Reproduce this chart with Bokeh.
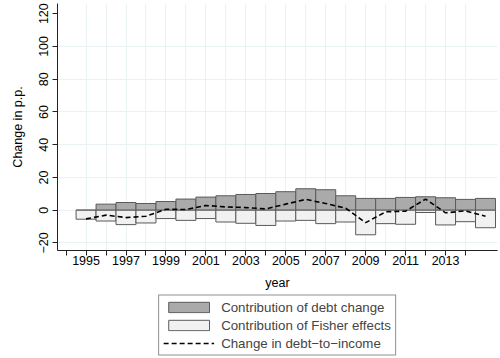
from bokeh.plotting import figure
from bokeh.layouts import column
from bokeh.models import Range1d, FixedTicker, Legend, LegendItem
from bokeh.embed import file_html
from bokeh.resources import INLINE

# Decomposition of the annual change in debt-to-income (percentage points)
years = list(range(1995, 2016))
debt_change = [0.0, 3.7, 4.7, 4.1, 5.3, 6.8, 8.0, 8.8, 9.6, 10.2, 11.3,
               13.1, 12.5, 8.8, 7.2, 7.2, 7.8, 8.2, 7.6, 6.6, 7.2]
fisher_effects = [-5.5, -6.6, -8.8, -7.8, -5.1, -6.2, -5.1, -7.2, -8.0, -9.3, -6.6,
                  -6.2, -8.2, -7.2, -15.0, -8.2, -8.6, -1.4, -9.0, -7.0, -10.7]
dti_change = [-5.3, -3.0, -4.5, -3.7, 0.6, 0.4, 2.9, 2.0, 1.6, 0.8, 3.7,
              6.6, 4.1, 1.2, -7.6, -1.0, -0.6, 6.8, -1.6, -0.4, -3.7]

y_ticks = [-20, 0, 20, 40, 60, 80, 100, 120]
x_ticks = list(range(1994, 2015))
x_labels = {t: (str(t) if t % 2 == 1 else "") for t in x_ticks}
series_labels = ["Contribution of debt change",
                 "Contribution of Fisher effects",
                 "Change in debt\u2212to\u2212income"]

FONT = "Liberation Sans"
GRID = "#eaf2f3"
AXIS = "#222222"
DEBT_STYLE = dict(fill_color="#aaaaaa", line_color="#5a5a5a", line_width=1)
FISHER_STYLE = dict(fill_color="#f1f1f1", line_color="#5a5a5a", line_width=1)
LINE_STYLE = dict(line_color="black", line_width=1.6, line_dash="5 3")

p = figure(width=500, height=292, output_backend="svg", toolbar_location=None,
           x_range=Range1d(1993.57, 2015.6), y_range=Range1d(-24.6, 126.2),
           min_border_left=57, min_border_right=3, min_border_top=3,
           min_border_bottom=0, outline_line_color=None,
           background_fill_color="white", border_fill_color="white")

# bars: debt change stacked upward, Fisher effects downward
p.vbar(x=years, top=debt_change, bottom=0, width=1.0, **DEBT_STYLE)
p.vbar(x=years, top=0, bottom=fisher_effects, width=1.0, **FISHER_STYLE)
p.line(x=years, y=dti_change, **LINE_STYLE)

# axes
p.xaxis.ticker = FixedTicker(ticks=x_ticks)
p.xaxis.major_label_overrides = x_labels
p.yaxis.ticker = FixedTicker(ticks=y_ticks)
p.yaxis.major_label_overrides = {t: str(t).replace("-", "\u2212") for t in y_ticks}
p.yaxis.major_label_orientation = "vertical"
p.xaxis.axis_label = "year"
p.yaxis.axis_label = "Change in p.p."

for ax in (p.xaxis, p.yaxis):
    ax.axis_line_color = AXIS
    ax.major_tick_line_color = AXIS
    ax.major_tick_out = 5
    ax.major_tick_in = 0
    ax.minor_tick_out = 0
    ax.minor_tick_in = 0
    ax.major_label_text_font = FONT
    ax.major_label_text_font_size = "12.5px"
    ax.major_label_text_color = "black"
    ax.axis_label_text_font = FONT
    ax.axis_label_text_font_size = "12.5px"
    ax.axis_label_text_font_style = "normal"
    ax.axis_label_text_color = "black"
p.xaxis.major_label_standoff = 0
p.xaxis.axis_label_standoff = 8
p.yaxis.major_label_standoff = 4
p.yaxis.axis_label_standoff = 12

# grid
p.xgrid.ticker = FixedTicker(ticks=list(range(1995, 2015)))
p.ygrid.ticker = FixedTicker(ticks=[-20, 0, 20, 40, 60, 80, 100])
p.xgrid.grid_line_color = GRID
p.ygrid.grid_line_color = GRID
p.xgrid.grid_line_width = 1
p.ygrid.grid_line_width = 1

# legend strip under the chart, centred on the plotting area; its key
# renderers carry the series styles but are not drawn themselves
lg = figure(width=500, height=66, output_backend="svg", toolbar_location=None,
            x_axis_type=None, y_axis_type=None,
            x_range=Range1d(0, 1), y_range=Range1d(0, 1),
            min_border_left=57, min_border_right=3, min_border_top=0,
            min_border_bottom=0, outline_line_color=None,
            background_fill_color="white", border_fill_color="white")
lg.xgrid.visible = False
lg.ygrid.visible = False
k_debt = lg.vbar(x=years, top=debt_change, bottom=0, width=1.0, **DEBT_STYLE)
k_fisher = lg.vbar(x=years, top=0, bottom=fisher_effects, width=1.0, **FISHER_STYLE)
k_line = lg.line(x=years, y=dti_change, **LINE_STYLE)
for r in (k_debt, k_fisher, k_line):
    r.visible = False

legend = Legend(items=[
    LegendItem(label=series_labels[0], renderers=[k_debt]),
    LegendItem(label=series_labels[1], renderers=[k_fisher]),
    LegendItem(label=series_labels[2], renderers=[k_line]),
], location="center", orientation="vertical",
    glyph_width=51, glyph_height=13, label_height=13, label_standoff=7,
    spacing=3, padding=4, margin=0,
    label_text_font=FONT, label_text_font_size="13.3px",
    border_line_color="#222222", border_line_width=1,
    background_fill_color="white", background_fill_alpha=1.0,
    inactive_fill_alpha=0.0)
lg.add_layout(legend, "center")

open("out.html", "w").write(file_html(column(p, lg, spacing=0), INLINE))
